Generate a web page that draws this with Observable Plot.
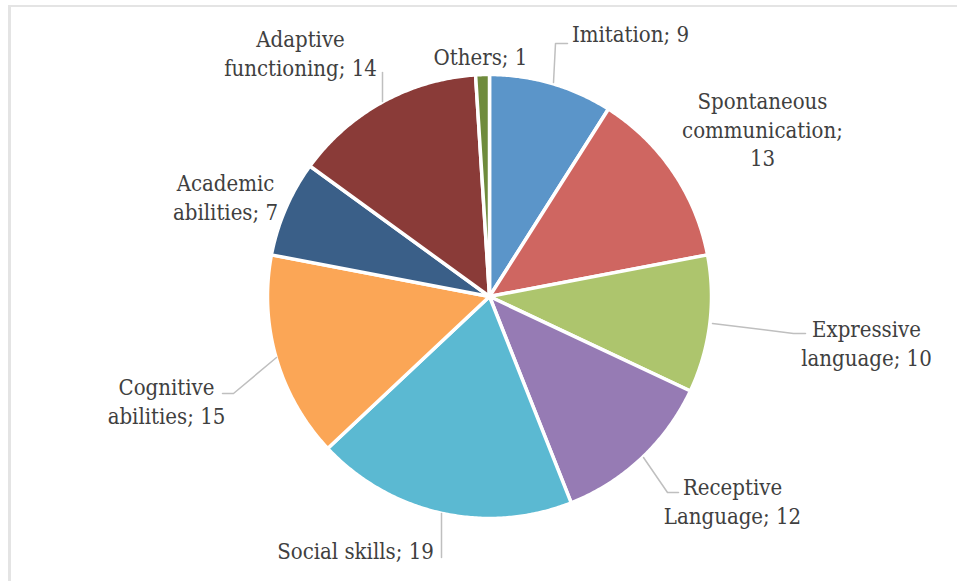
<!DOCTYPE html>
<html><head><meta charset="utf-8">
<script src="https://cdn.jsdelivr.net/npm/d3@7"></script>
<script src="https://cdn.jsdelivr.net/npm/@observablehq/plot@0.6"></script>
<style>
html,body{margin:0;padding:0;background:#fff;overflow:hidden;}
#wrap{position:relative;width:957px;height:581px;overflow:hidden;}
#frame{position:absolute;left:8px;top:5px;width:980px;height:620px;border-top:2px solid #e4e4e4;border-left:3px solid #e4e4e4;}
#chart{position:absolute;left:0;top:0;}
</style></head><body>
<div id="wrap"><div id="frame"></div><div id="chart"></div></div>
<script>
// ---- data ----
const categories = ["Imitation","Spontaneous communication","Expressive language","Receptive Language","Social skills","Cognitive abilities","Academic abilities","Adaptive functioning","Others"];
const values = [9,13,10,12,19,15,7,14,1];
const colors = ["#5B95C9","#CF6661","#ADC56D","#967BB4","#5BB9D2","#FBA656","#3A5F88","#8A3B38","#6F8B3C"];

// ---- layout (pixels of the 957x581 frame) ----
const W = 957, H = 581, CX = 489, CY = 296, R = 222;
const labelLayout = [
  {cat:"Imitation", x:630, y:32, lines:1},
  {cat:"Spontaneous communication", x:762, y:128, lines:3},
  {cat:"Expressive language", x:866, y:342, lines:2},
  {cat:"Receptive Language", x:732, y:500, lines:2},
  {cat:"Social skills", x:355, y:549, lines:1},
  {cat:"Cognitive abilities", x:166, y:400, lines:2},
  {cat:"Academic abilities", x:225, y:196, lines:2},
  {cat:"Adaptive functioning", x:300, y:52, lines:2},
  {cat:"Others", x:480, y:55, lines:1}
];
const leaders = [
  {cat:"Imitation", pts:[[553,82],[555,43],[567,43]]},
  {cat:"Expressive language", pts:[[712,323],[793,333],[805,333]]},
  {cat:"Receptive Language", pts:[[643,457],[667,492],[678,492]]},
  {cat:"Social skills", pts:[[441,513],[441,557]]},
  {cat:"Cognitive abilities", pts:[[276,357],[233,393],[222,393]]},
  {cat:"Adaptive functioning", pts:[[382,101],[382,72]]}
];

const u = px => (px - CX) / R;
const v = py => (CY - py) / R;

// slices from data
const rows = categories.map((c, i) => ({name: c, value: values[i]}));
const arcs = d3.pie().sort(null).value(d => d.value).startAngle(0).endAngle(2 * Math.PI)(rows);
const slicePts = [];
arcs.forEach(a => {
  const name = a.data.name;
  slicePts.push({name, x: 0, y: 0});
  const n = Math.max(2, Math.ceil((a.endAngle - a.startAngle) / (Math.PI / 360)));
  for (let k = 0; k <= n; k++) {
    const t = a.startAngle + (a.endAngle - a.startAngle) * k / n;
    slicePts.push({name, x: Math.sin(t), y: Math.cos(t)});
  }
});

function wrap(text, lines) {
  if (lines === 1) return text;
  if (lines === 3) { // name words each on a line, value on its own
    const [name, val] = text.split("; ");
    return name.split(" ").join("\n") + ";\n" + val;
  }
  const i = text.indexOf(" ");
  return text.slice(0, i) + "\n" + text.slice(i + 1);
}
const labels = labelLayout.map(l => {
  const i = categories.indexOf(l.cat);
  return {x: u(l.x), y: v(l.y), text: wrap(`${categories[i]}; ${values[i]}`, l.lines)};
});
const leaderPts = leaders.flatMap(l => l.pts.map(p => ({cat: l.cat, x: u(p[0]), y: v(p[1])})));

const font = "'DejaVu Serif Condensed', 'DejaVu Serif', serif";
const chart = Plot.plot({
  width: W, height: H,
  marginTop: 0, marginRight: 0, marginBottom: 0, marginLeft: 0,
  x: {domain: [u(0), u(W)], axis: null},
  y: {domain: [v(H), v(0)], axis: null},
  color: {domain: categories, range: colors},
  style: {background: "transparent", fontFamily: font, fontStretch: "condensed"},
  marks: [
    Plot.line(slicePts, {x: "x", y: "y", z: "name", fill: "name", stroke: "white", strokeWidth: 3.5, curve: "linear-closed", strokeLinejoin: "round"}),
    Plot.line(leaderPts, {x: "x", y: "y", z: "cat", stroke: "#bfbfbf", strokeWidth: 1.5}),
    Plot.text(labels, {x: "x", y: "y", text: "text", fontSize: 22, lineHeight: 1.3, fill: "#404040", textAnchor: "middle", fontFamily: font})
  ]
});
document.getElementById("chart").appendChild(chart);
</script>
</body></html>
